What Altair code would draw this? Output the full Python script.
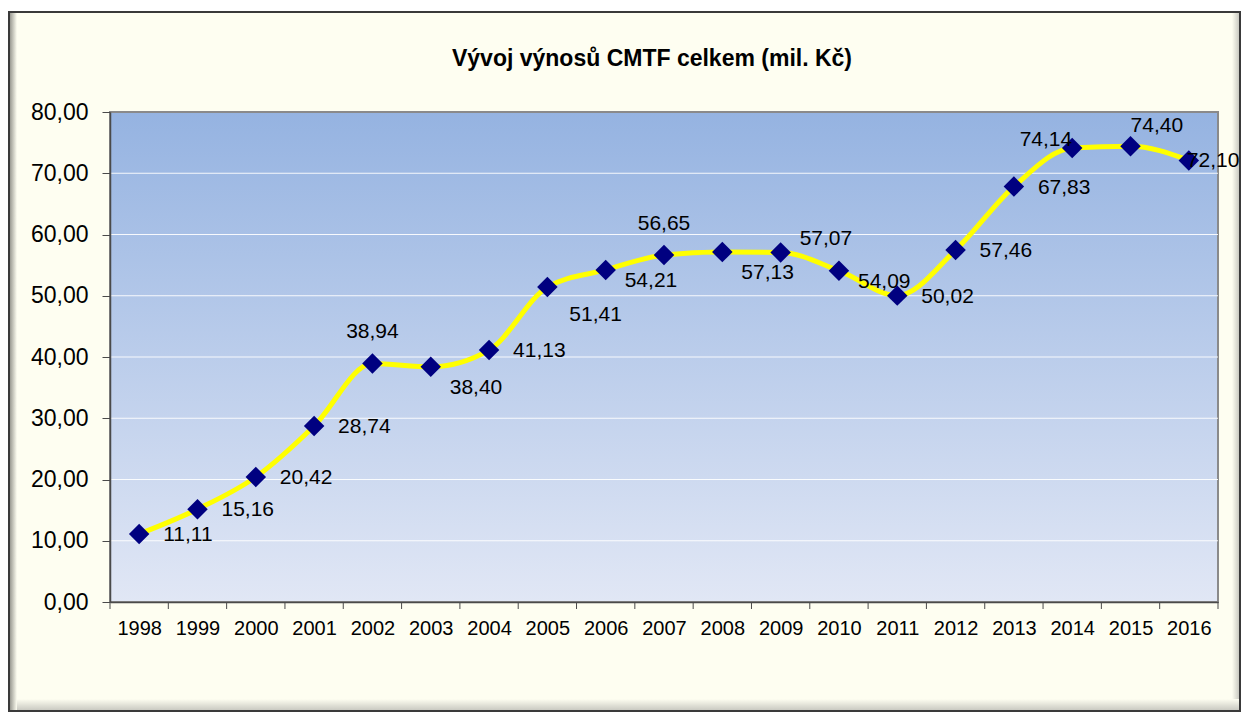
import altair as alt
import pandas as pd

years = list(range(1998, 2017))
values = [11.11, 15.16, 20.42, 28.74, 38.94, 38.40, 41.13, 51.41, 54.21, 56.65,
          57.13, 57.07, 54.09, 50.02, 57.46, 67.83, 74.14, 74.40, 72.10]
# label placement relative to the marker (as in the original chart)
placement = ["r", "r", "r", "r", "up", "rd", "r", "rdd", "rs", "up",
             "rd", "ru", "rs", "r", "r", "r", "ul", "ur", "rc"]
y_ticks = [0, 10, 20, 30, 40, 50, 60, 70, 80]
grid_vals = [10, 20, 30, 40, 50, 60, 70]
boundaries = [y - 0.5 for y in years] + [years[-1] + 0.5]
title_text = "Vývoj výnosů CMTF celkem (mil. Kč)"

W, H = 1108, 490
FONT = "Liberation Sans"
IVORY = "#FEFEF1"

df = pd.DataFrame({"year": years, "value": values, "place": placement})
df["label"] = [f"{v:.2f}".replace(".", ",") for v in values]

xscale = alt.Scale(domain=[years[0] - 0.5, years[-1] + 0.5], nice=False, zero=False)
yscale = alt.Scale(domain=[0, 80], nice=False)

one = pd.DataFrame({"a": [0]})


def grad(c1, c2, horizontal):
    return {"gradient": "linear", "x1": 0, "y1": 0,
            "x2": 1 if horizontal else 0, "y2": 0 if horizontal else 1,
            "stops": [{"offset": 0, "color": c1}, {"offset": 1, "color": c2}]}


R, B = 1130, 599  # frame right / bottom in plot coordinates
frame = alt.Chart(one).mark_rect(fill=IVORY, stroke="#3A3A3A", strokeWidth=2).encode(
    x=alt.value(-101), x2=alt.value(R), y=alt.value(-100), y2=alt.value(B)
)
shadow_left = alt.Chart(one).mark_rect(fill=grad("#9A9A92", IVORY, True)).encode(
    x=alt.value(-100), x2=alt.value(-93), y=alt.value(-99), y2=alt.value(B - 1)
)
shadow_right = alt.Chart(one).mark_rect(fill=grad(IVORY, "#CACAC2", True)).encode(
    x=alt.value(R - 8), x2=alt.value(R - 1), y=alt.value(-99), y2=alt.value(B - 1)
)
shadow_bottom = alt.Chart(one).mark_rect(fill=grad(IVORY, "#CACAC2", False)).encode(
    x=alt.value(-93), x2=alt.value(R - 1), y=alt.value(B - 12), y2=alt.value(B - 1)
)

plotbg = alt.Chart(one).mark_rect(
    fill=grad("#95B3E1", "#E1E7F5", False),
    stroke="#8A8A8A", strokeWidth=2,
).encode(x=alt.value(0), x2=alt.value(W), y=alt.value(0), y2=alt.value(H))

grid = alt.Chart(pd.DataFrame({"g": grid_vals})).mark_rule(color="#FFFFFF", strokeWidth=1.2, opacity=0.9).encode(
    y=alt.Y("g:Q", scale=yscale), x=alt.value(0), x2=alt.value(W)
)

xticks = alt.Chart(pd.DataFrame({"b": boundaries})).mark_rule(color="#4A4A4A", strokeWidth=1).encode(
    x=alt.X("b:Q", scale=xscale), y=alt.value(H), y2=alt.value(H + 7)
)

base = alt.Chart(df)

line = base.mark_line(color="#FFFF00", strokeWidth=5, interpolate="monotone").encode(
    x=alt.X("year:Q", scale=xscale, title=None,
            axis=alt.Axis(values=years, format="d", ticks=False, grid=False, labelFont=FONT,
                          labelFontSize=20, labelColor="#000000", labelPadding=16,
                          domainColor="#4A4A4A", domainWidth=1.5, zindex=1, labelFlush=False,
                          labelOverlap=False)),
    y=alt.Y("value:Q", scale=yscale, title=None,
            axis=alt.Axis(values=y_ticks, grid=False, labelFont=FONT, labelFontSize=23,
                          labelColor="#000000", tickSize=8, tickColor="#4A4A4A", labelPadding=14,
                          domainColor="#4A4A4A", domainWidth=1.5, zindex=1,
                          labelExpr="replace(format(datum.value, '.2f'), '.', ',')")),
)

points = base.mark_point(shape="diamond", filled=True, color="#000080", size=420, opacity=1).encode(
    x=alt.X("year:Q", scale=xscale), y=alt.Y("value:Q", scale=yscale)
)

place_style = {
    "r": dict(align="left", dx=24, dy=1),
    "rd": dict(align="left", dx=19, dy=21),
    "rdd": dict(align="left", dx=22, dy=28),
    "rs": dict(align="left", dx=19, dy=11),
    "ru": dict(align="left", dx=19, dy=-13),
    "up": dict(align="center", dx=0, dy=-31),
    "ul": dict(align="right", dx=0, dy=-8),
    "ur": dict(align="left", dx=0, dy=-20),
    "rc": dict(align="left", dx=-2, dy=1),
}

label_layers = []
for key, st in place_style.items():
    label_layers.append(
        base.transform_filter(alt.datum.place == key).mark_text(
            font=FONT, fontSize=21, color="#000000", baseline="middle", **st
        ).encode(x=alt.X("year:Q", scale=xscale), y=alt.Y("value:Q", scale=yscale), text="label:N")
    )

title = alt.Chart(pd.DataFrame({"t": [title_text]})).mark_text(
    font=FONT, fontSize=23, fontWeight="bold", color="#000000", align="center", baseline="middle"
).encode(text="t:N", x=alt.value(542), y=alt.value(-53))

chart = alt.layer(frame, shadow_left, shadow_right, shadow_bottom, plotbg, grid, xticks,
                  line, points, *label_layers, title).properties(
    width=W, height=H,
    autosize=alt.AutoSizeParams(type="none"),
    padding={"left": 102, "top": 104, "right": 23, "bottom": 110},
    background="#FFFFFF",
).configure_view(stroke=None)

chart.save("out.html", embed_options={"renderer": "svg", "actions": False})
